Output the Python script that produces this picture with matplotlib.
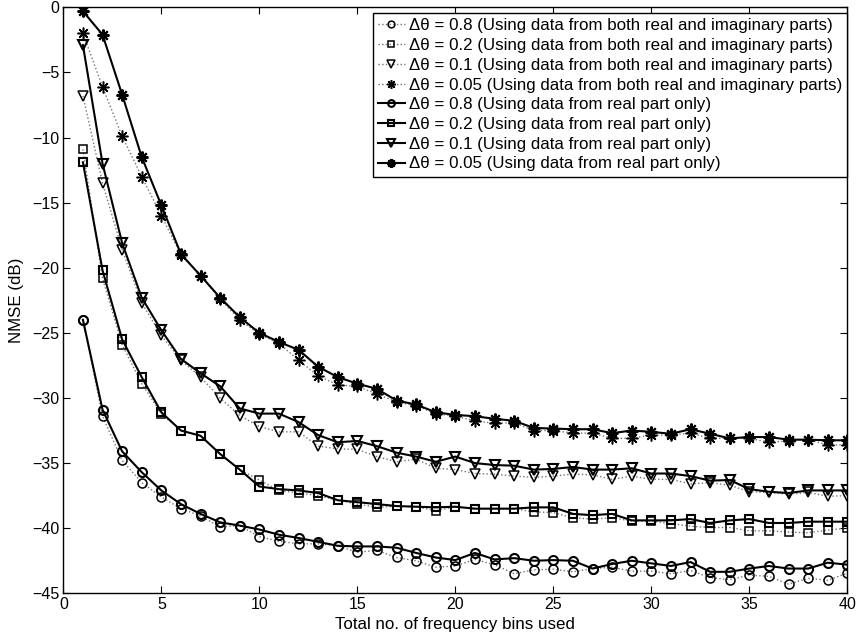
import numpy as np
import matplotlib
matplotlib.use('Agg')
import matplotlib.pyplot as plt

plt.rcParams['font.family'] = ['Liberation Sans', 'DejaVu Sans']
plt.rcParams['axes.unicode_minus'] = True

# number of frequency bins
bins = list(range(1, 41))

# NMSE (dB), using data from both real and imaginary parts (dotted)
both_08 = [-24.0, -31.4, -34.8, -36.5, -37.6, -38.5, -39.05, -39.9, -39.8, -40.65,
           -41.0, -41.2, -41.2, -41.35, -41.85, -41.7, -42.25, -42.5, -43.0, -42.9,
           -42.4, -42.8, -43.5, -43.2, -43.15, -43.35, -43.1, -43.0, -43.3, -43.3,
           -43.5, -43.25, -43.8, -43.95, -43.6, -43.7, -44.3, -43.85, -44.0, -43.45]
both_02 = [-10.9, -20.8, -25.9, -28.9, -31.2, -32.5, -32.9, -34.3, -35.5, -36.3,
           -37.1, -37.3, -37.5, -37.85, -38.15, -38.4, -38.3, -38.35, -38.65, -38.35,
           -38.5, -38.5, -38.5, -38.75, -38.8, -39.2, -39.3, -39.2, -39.45, -39.45,
           -39.65, -39.85, -39.95, -39.95, -40.2, -40.2, -40.3, -40.35, -40.15, -40.0]
both_01 = [-6.8, -13.5, -18.6, -22.7, -25.2, -27.1, -28.4, -30.0, -31.35, -32.2,
           -32.6, -32.6, -33.7, -33.9, -33.95, -34.5, -34.9, -34.7, -35.4, -35.5,
           -35.8, -35.85, -36.0, -36.1, -36.0, -35.85, -35.9, -36.25, -36.0, -36.25,
           -36.25, -36.6, -36.5, -36.7, -37.2, -37.25, -37.4, -37.25, -37.55, -37.5]
both_005 = [-2.0, -6.1, -9.9, -13.0, -16.0, -19.0, -20.6, -22.4, -24.0, -25.1,
            -25.8, -27.1, -28.3, -29.0, -29.1, -29.7, -30.3, -30.6, -31.2, -31.4,
            -31.75, -31.95, -31.9, -32.5, -32.5, -32.7, -32.7, -33.1, -33.1, -32.85,
            -32.85, -32.7, -33.1, -33.1, -33.1, -33.4, -33.3, -33.2, -33.6, -33.6]

# NMSE (dB), using data from real part only (solid)
real_08 = [-24.0, -30.9, -34.1, -35.7, -37.1, -38.15, -38.9, -39.55, -39.8, -40.1,
           -40.5, -40.75, -41.05, -41.35, -41.4, -41.4, -41.5, -41.9, -42.25, -42.45,
           -41.9, -42.4, -42.3, -42.5, -42.45, -42.5, -43.1, -42.75, -42.5, -42.7,
           -42.9, -42.6, -43.35, -43.35, -43.1, -42.9, -43.1, -43.1, -42.65, -42.8]
real_02 = [-11.9, -20.2, -25.5, -28.4, -31.1, -32.5, -32.9, -34.3, -35.5, -36.8,
           -37.0, -37.1, -37.3, -37.85, -38.0, -38.15, -38.3, -38.35, -38.4, -38.35,
           -38.5, -38.5, -38.5, -38.4, -38.4, -38.9, -39.0, -38.9, -39.4, -39.4,
           -39.4, -39.3, -39.6, -39.4, -39.3, -39.6, -39.6, -39.5, -39.5, -39.5]
real_01 = [-2.9, -12.0, -18.1, -22.3, -24.8, -27.0, -28.1, -29.1, -30.8, -31.2,
           -31.2, -31.85, -32.85, -33.4, -33.3, -33.7, -34.2, -34.5, -34.9, -34.5,
           -35.0, -35.15, -35.2, -35.5, -35.45, -35.3, -35.5, -35.5, -35.4, -35.8,
           -35.8, -36.0, -36.35, -36.3, -37.0, -37.2, -37.3, -37.1, -37.1, -37.1]
real_005 = [-0.3, -2.1, -6.7, -11.5, -15.2, -18.95, -20.6, -22.3, -23.8, -25.0,
            -25.7, -26.3, -27.6, -28.4, -28.9, -29.3, -30.2, -30.5, -31.1, -31.3,
            -31.4, -31.6, -31.75, -32.3, -32.35, -32.4, -32.4, -32.7, -32.5, -32.6,
            -32.75, -32.4, -32.75, -33.1, -33.0, -33.0, -33.2, -33.2, -33.25, -33.25]

steps = ['0.8', '0.2', '0.1', '0.05']
markers = ['o', 's', 'v', (8, 2, 0)]
msizes = [6.5, 6.0, 7.0, 8.5]
both_series = [both_08, both_02, both_01, both_005]
real_series = [real_08, real_02, real_01, real_005]

fig = plt.figure(figsize=(8.57, 6.37), dpi=100)
ax = fig.add_axes([0.0739, 0.0686, 0.9148, 0.9199])

for s, m, ms, y in zip(steps, markers, msizes, both_series):
    ax.plot(bins, y, linestyle=':', color='0.45', linewidth=1.0,
            marker=m, markersize=ms, mfc='none', mec='k', mew=1.1,
            label=f'Δθ = {s} (Using data from both real and imaginary parts)')
for s, m, ms, y in zip(steps, markers, msizes, real_series):
    ax.plot(bins, y, linestyle='-', color='k', linewidth=1.5,
            marker=m, markersize=ms, mfc='none', mec='k', mew=1.5,
            label=f'Δθ = {s} (Using data from real part only)')

ax.set_xlim(0, 40)
ax.set_ylim(-45, 0)
ax.set_xticks(range(0, 41, 5))
ax.set_yticks(range(-45, 1, 5))
ax.tick_params(direction='in', top=True, right=True, labelsize=11.5, length=5, pad=3)
for sp in ax.spines.values():
    sp.set_linewidth(1.0)
ax.set_xlabel('Total no. of frequency bins used', fontsize=12.2, labelpad=3)
ax.set_ylabel('NMSE (dB)', fontsize=12.2, labelpad=6)

leg = ax.legend(loc='upper right', bbox_to_anchor=(1.0, 0.99), fontsize=12.2,
                frameon=True, fancybox=False, edgecolor='k', framealpha=1,
                borderaxespad=0.0, borderpad=0.3, labelspacing=0.28,
                handlelength=1.6, handletextpad=0.25, markerscale=0.75)
leg.get_frame().set_linewidth(1.0)

fig.savefig('out.png', dpi=100)
